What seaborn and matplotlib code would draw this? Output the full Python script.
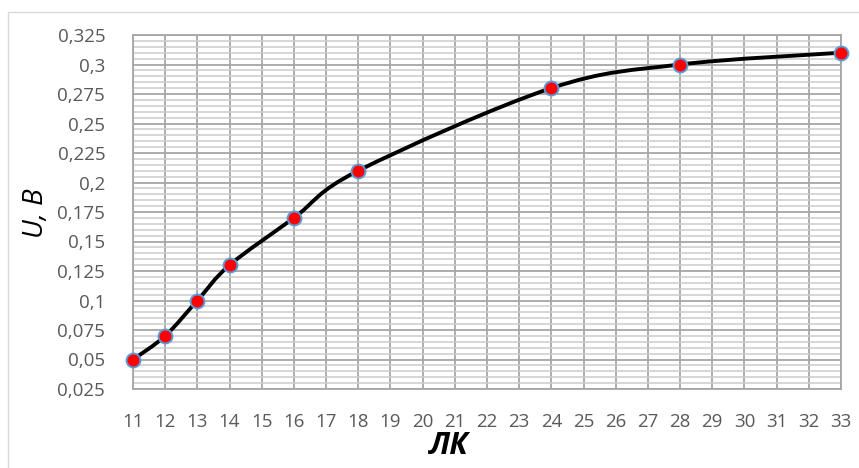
import numpy as np
import matplotlib.pyplot as plt
import seaborn as sns
import pandas as pd
from matplotlib.path import Path
from matplotlib.patches import PathPatch, Rectangle
from matplotlib.ticker import MultipleLocator, FuncFormatter

lk = [11, 12, 13, 14, 16, 18, 24, 28, 33]
u_volts = [0.05, 0.07, 0.10, 0.13, 0.17, 0.21, 0.28, 0.30, 0.31]
x_ticks = list(range(11, 34))

df = pd.DataFrame({"ЛК": lk, "U": u_volts})

sns.set_theme(style="white")
plt.rcParams['font.family'] = ['Open Sans', 'DejaVu Sans']

fig = plt.figure(figsize=(8.59, 4.68), dpi=100)
ax = fig.add_axes([133 / 859, 1 - 389 / 468, (841 - 133) / 859, (389 - 35) / 468])

# light border around the chart area
fig.patches.append(Rectangle((8 / 859, -0.1), 1.2, 1 - 12 / 468 + 0.1, transform=fig.transFigure,
                             fill=False, edgecolor="#d9d9d9", linewidth=1.0))

# smoothed line like Excel (cardinal spline through the points)
pts = np.column_stack([lk, u_volts]).astype(float)
verts = [pts[0]]
codes = [Path.MOVETO]
n = len(pts)
for i in range(n - 1):
    p0 = pts[i - 1] if i > 0 else pts[i]
    p1, p2 = pts[i], pts[i + 1]
    p3 = pts[i + 2] if i + 2 < n else pts[i + 1]
    verts += [p1 + (p2 - p0) / 6, p2 - (p3 - p1) / 6, p2]
    codes += [Path.CURVE4] * 3
ax.add_patch(PathPatch(Path(verts, codes), fill=False, edgecolor="black", linewidth=2.8,
                       zorder=3, clip_on=False))

sns.scatterplot(data=df, x="ЛК", y="U", ax=ax, s=100, color="#ff0000", edgecolor="#5b9bd5",
                linewidth=1.4, zorder=4, clip_on=False, legend=False)

ax.set_xlim(11, 33)
ax.set_ylim(0.025, 0.325)
ax.set_xticks(x_ticks)
ax.yaxis.set_major_locator(MultipleLocator(0.025))
ax.yaxis.set_minor_locator(MultipleLocator(0.005))
ax.yaxis.set_major_formatter(FuncFormatter(lambda v, _: f"{v:.3f}".rstrip("0").rstrip(".").replace(".", ",")))

ax.grid(True, which="major", axis="both", color="#a6a6a6", linewidth=1.3)
ax.grid(True, which="minor", axis="y", color="#cccccc", linewidth=1.1)
ax.set_axisbelow(True)
for s in ax.spines.values():
    s.set_color("#a6a6a6")
    s.set_linewidth(1.3)

ax.tick_params(axis="both", which="both", length=0, labelsize=13.5, labelcolor="#595959")
ax.tick_params(axis="y", pad=20)
ax.tick_params(axis="x", pad=17)
ax.set_xlabel("")
ax.set_ylabel("")

fig.text(449 / 859, 1 - 446 / 468, "ЛК", ha="center", va="center", fontsize=22,
         fontstyle="italic", fontweight="bold", color="black")
fig.text(36 / 859, 1 - 213 / 468, "U, B", ha="center", va="center", rotation=90,
         fontsize=20, fontstyle="italic", color="black")

fig.savefig("out.png", dpi=100)
